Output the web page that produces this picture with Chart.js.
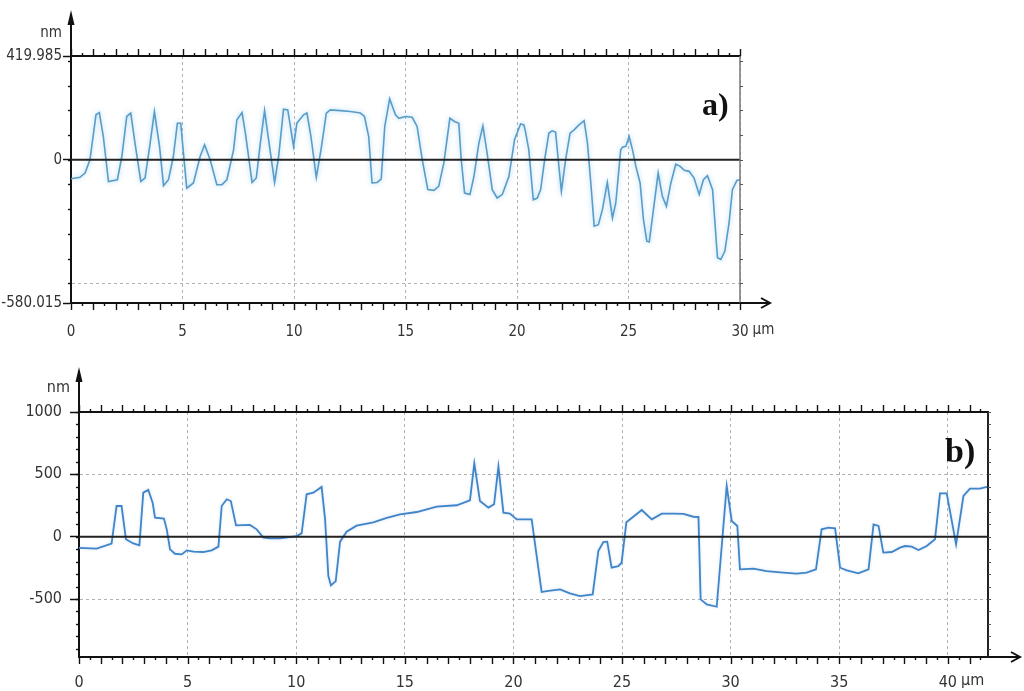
<!DOCTYPE html>
<html>
<head>
<meta charset="utf-8">
<script src="https://cdn.jsdelivr.net/npm/chart.js@4.4.0/dist/chart.umd.min.js"></script>
<style>
  html, body { margin:0; padding:0; background:#fff; }
  canvas { position:absolute; left:0; }
  #chartA { top:0; }
  #chartB { top:345px; }
</style>
</head>
<body>
<canvas id="chartA" width="1024" height="345"></canvas>
<canvas id="chartB" width="1024" height="346"></canvas>
<script>
// profile a) : position along scan (µm) and height (nm)
var posA = [0, 0.4, 0.63, 0.85, 1.12, 1.27, 1.45, 1.68, 2.08, 2.28, 2.5, 2.68, 2.87, 3.13, 3.32, 3.55, 3.74, 3.97,
  4.15, 4.37, 4.59, 4.77, 4.92, 5.07, 5.19, 5.49, 5.79, 5.99, 6.24, 6.54, 6.77, 6.99, 7.29, 7.44, 7.67, 7.82,
  8.12, 8.31, 8.49, 8.68, 8.86, 9.13, 9.31, 9.53, 9.72, 9.98, 10.13, 10.43, 10.58, 10.76, 11.0, 11.21, 11.45,
  11.63, 12.08, 12.53, 12.98, 13.16, 13.35, 13.5, 13.73, 13.91, 14.07, 14.29, 14.55, 14.7, 15.0, 15.3, 15.52,
  15.75, 16.0, 16.27, 16.49, 16.72, 16.99, 17.2, 17.39, 17.5, 17.65, 17.89, 18.07, 18.29, 18.47, 18.66, 18.89,
  19.11, 19.34, 19.64, 19.89, 20.16, 20.31, 20.38, 20.53, 20.73, 20.91, 21.06, 21.24, 21.43, 21.58, 21.73,
  21.85, 21.99, 22.18, 22.38, 22.56, 22.78, 23.01, 23.16, 23.31, 23.46, 23.65, 23.83, 24.05, 24.28, 24.43,
  24.65, 24.73, 24.88, 25.03, 25.18, 25.33, 25.52, 25.67, 25.82, 25.93, 26.08, 26.33, 26.52, 26.7, 26.9,
  27.12, 27.32, 27.5, 27.72, 27.94, 28.17, 28.36, 28.54, 28.77, 28.99, 29.14, 29.32, 29.51, 29.66, 29.86, 30.0];
var hA = [-77, -71, -54, 0, 182, 191, 94, -88, -81, 13, 175, 189, 67, -88, -74, 67, 195, 54,
  -105, -81, 13, 148, 148, 0, -115, -94, 13, 61, 0, -101, -101, -81, 40, 162, 191, 108,
  -92, -74, 67, 199, 81, -92, 13, 205, 202, 54, 148, 182, 189, 94, -71, 40, 189,
  202, 199, 195, 189, 175, 94, -94, -92, -78, 135, 247, 182, 168, 175, 172, 135,
  0, -121, -124, -108, -13, 168, 155, 148, 0, -135, -141, -67, 67, 137, 27, -121,
  -155, -141, -67, 81, 145, 141, 114, 40, -162, -155, -121, 0, 108, 117, 112,
  0, -128, 0, 108, 121, 141, 158, 67, -94, -269, -263, -202, -92, -236, -175,
  40, 51, 54, 94, 40, -27, -94, -242, -330, -333, -229, -54, -148, -189, -94,
  -18, -27, -43, -47, -74, -141, -81, -65, -121, -397, -404, -370, -256, -121, -84, -81];
var xTicksA = [0, 5, 10, 15, 20, 25, 30];
var yTicksA = [-580.015, -500, 0, 419.985];
var yLabelsA = ['-580.015', '', '0', '419.985'];

// profile b)
var posB = [0, 0.81, 1.5, 1.73, 1.96, 2.16, 2.5, 2.78, 2.96, 3.19, 3.39, 3.5, 3.91, 4.04, 4.19, 4.42, 4.73,
  4.96, 5.27, 5.72, 6.11, 6.42, 6.57, 6.8, 6.99, 7.23, 7.87, 8.18, 8.49, 8.8, 9.26, 10.02, 10.25, 10.48,
  10.79, 11.17, 11.33, 11.48, 11.6, 11.82, 12.02, 12.32, 12.78, 13.55, 14.17, 14.78, 15.55, 16.47, 17.39,
  18.0, 18.2, 18.46, 18.85, 19.11, 19.31, 19.54, 19.84, 20.15, 20.84, 21.3, 21.53, 22.15, 22.6, 23.07,
  23.65, 23.91, 24.14, 24.32, 24.52, 24.83, 24.98, 25.2, 25.91, 26.37, 26.83, 27.37, 27.83, 28.28, 28.52,
  28.62, 28.9, 29.36, 29.82, 30.05, 30.31, 30.43, 31.05, 31.66, 32.43, 33.04, 33.5, 33.93, 34.19, 34.5,
  34.81, 35.04, 35.35, 35.88, 36.35, 36.58, 36.81, 37.03, 37.42, 37.8, 38.03, 38.34, 38.65, 39.03, 39.41,
  39.64, 39.95, 40.38, 40.72, 41.02, 41.48, 41.85];
var hB = [-90, -96, -55, 246, 246, -21, -54, -70, 353, 375, 273, 153, 145, 59, -102, -137, -142,
  -110, -120, -123, -110, -80, 246, 300, 286, 91, 94, 59, -8, -13, -13, 5, 27, 340,
  353, 399, 139, -316, -391, -356, -40, 40, 88, 115, 150, 179, 198, 241, 252,
  292, 589, 286, 233, 260, 562, 193, 185, 139, 139, -444, -436, -423, -455, -476,
  -463, -115, -43, -40, -249, -236, -209, 115, 214, 139, 185, 185, 183, 160, 158,
  -503, -543, -562, 407, 126, 86, -262, -257, -276, -289, -297, -289, -262, 59, 72,
  67, -249, -270, -294, -262, 99, 86, -128, -123, -88, -75, -80, -107, -75, -21,
  348, 348, -62, 327, 385, 385, 402];
var xTicksB = [0, 5, 10, 15, 20, 25, 30, 35, 40];
var yTicksB = [-965, -500, 0, 500, 1000];
var yLabelsB = ['', '-500', '0', '500', '1000'];

var FAMILY = '"DejaVu Sans Condensed", "Liberation Sans Narrow", "DejaVu Sans", sans-serif';

function seg(ctx, x1, y1, x2, y2, w, c) {
  ctx.beginPath();
  ctx.lineWidth = w;
  ctx.strokeStyle = c;
  ctx.moveTo(x1, y1);
  ctx.lineTo(x2, y2);
  ctx.stroke();
}

// axis decorations: ruler ticks, frame, zero line, arrows, units, panel label
var framePlugin = {
  id: 'frame',
  beforeDatasetsDraw: function(chart, args, o) {
    chart.ctx.save();
    chart.ctx.shadowColor = o.glow;
    chart.ctx.shadowBlur = o.glowBlur;
  },
  afterDatasetsDraw: function(chart) {
    chart.ctx.restore();
  },
  afterDraw: function(chart, args, o) {
    var ctx = chart.ctx, a = chart.chartArea;
    var x = chart.scales.x, y = chart.scales.y;
    ctx.save();
    var y0 = y.getPixelForValue(0);
    seg(ctx, a.left, y0, a.right, y0, 2, '#222');
    seg(ctx, a.left - 1, a.top, a.right + 1, a.top, 2, '#111');
    seg(ctx, a.right, a.top, a.right, a.bottom, o.rightWidth, o.rightColor);

    for (var v = 0; v <= x.max + 1e-6; v += 0.5) {
      var px = Math.round(x.getPixelForValue(v)) + 0.5;
      var len = (v % 1 === 0) ? 7 : 3;
      seg(ctx, px, a.top, px, a.top - len, 1.4, '#111');
      seg(ctx, px, a.bottom, px, a.bottom + len, 1.4, '#111');
    }
    for (var w = Math.ceil(y.min / 100) * 100; w <= y.max; w += 100) {
      var py = Math.round(y.getPixelForValue(w)) + 0.5;
      seg(ctx, a.left - 3, py, a.left, py, 1.4, '#111');
      seg(ctx, a.right, py, a.right + 3, py, 1, '#555');
    }

    // y arrow
    seg(ctx, a.left, a.top, a.left, o.arrowTop + 8, 2, '#111');
    ctx.fillStyle = '#111';
    ctx.beginPath();
    ctx.moveTo(a.left, o.arrowTop);
    ctx.lineTo(a.left - 3.5, o.arrowTop + 15);
    ctx.lineTo(a.left + 3.5, o.arrowTop + 15);
    ctx.closePath();
    ctx.fill();
    // x arrow
    seg(ctx, a.right, a.bottom, o.arrowRight, a.bottom, 2, '#111');
    ctx.beginPath();
    ctx.lineWidth = 2;
    ctx.moveTo(o.arrowRight - 9, a.bottom - 5);
    ctx.lineTo(o.arrowRight, a.bottom);
    ctx.lineTo(o.arrowRight - 9, a.bottom + 5);
    ctx.stroke();

    // units
    ctx.font = o.font;
    ctx.fillStyle = '#333';
    ctx.textBaseline = 'middle';
    ctx.textAlign = 'right';
    ctx.fillText('nm', a.left - 9, o.nmY);
    var last = o.lastTick;
    var lw = ctx.measureText(String(last)).width;
    ctx.textAlign = 'left';
    ctx.fillText('µm', x.getPixelForValue(last) + lw / 2 + 4, o.unitY);

    // panel label
    ctx.font = o.labelFont;
    ctx.fillStyle = '#111';
    ctx.textAlign = 'left';
    ctx.textBaseline = 'alphabetic';
    ctx.fillText(o.label, o.labelX, o.labelY);
    ctx.restore();
  }
};

function makeChart(id, pos, h, xTicks, yTicks, yLabels, s) {
  var pts = pos.map(function(p, i) { return { x: p, y: h[i] }; });
  var fnt = { family: FAMILY, size: s.fontSize };
  return new Chart(document.getElementById(id).getContext('2d'), {
    type: 'line',
    data: {
      datasets: [{
        data: pts,
        borderColor: s.lineColor,
        borderWidth: s.lineWidth,
        pointRadius: 0,
        tension: 0,
        fill: false
      }]
    },
    options: {
      responsive: false,
      animation: false,
      events: [],
      layout: { padding: s.padding },
      plugins: {
        legend: { display: false },
        tooltip: { enabled: false },
        frame: s.frame
      },
      scales: {
        x: {
          type: 'linear',
          min: 0,
          max: s.xMax,
          afterBuildTicks: function(sc) { sc.ticks = xTicks.map(function(v) { return { value: v }; }); },
          afterFit: function(sc) { sc.height = s.xHeight; },
          ticks: {
            autoSkip: false, maxRotation: 0, padding: s.xPad,
            color: '#333', font: fnt,
            callback: function(v) { return String(v); }
          },
          grid: {
            drawTicks: false,
            lineWidth: 1,
            color: function(c) { return c.tick && c.tick.value > 0 ? '#b0b0b0' : 'rgba(0,0,0,0)'; }
          },
          border: { display: true, color: '#111', width: 2, dash: [3, 3] }
        },
        y: {
          min: yTicks[0],
          max: yTicks[yTicks.length - 1],
          afterBuildTicks: function(sc) { sc.ticks = yTicks.map(function(v) { return { value: v }; }); },
          afterFit: function(sc) { sc.width = s.yWidth; },
          ticks: {
            padding: s.yPad, color: '#333', font: fnt,
            callback: function(v, i) { return yLabels[i]; }
          },
          grid: {
            tickLength: s.yTick,
            tickWidth: 1.5,
            lineWidth: 1,
            tickColor: function(c) { return yLabels[c.index] ? '#111' : 'rgba(0,0,0,0)'; },
            color: function(c) { return c.tick && Math.abs(c.tick.value) === 500 ? '#b0b0b0' : 'rgba(0,0,0,0)'; }
          },
          border: { display: true, color: '#111', width: 2, dash: [3, 3] }
        }
      }
    },
    plugins: [framePlugin]
  });
}

makeChart('chartA', posA, hA, xTicksA, yTicksA, yLabelsA, {
  xMax: 30, padding: { top: 56, right: 284, left: 0, bottom: 0 },
  yWidth: 71, xHeight: 42, xPad: 20, yPad: 1, yTick: 8, fontSize: 15,
  lineColor: '#5a9cc8', lineWidth: 1.6,
  frame: {
    glow: 'rgba(130,195,235,0.75)', glowBlur: 5,
    rightColor: '#777', rightWidth: 1.5,
    arrowTop: 10, arrowRight: 770, nmY: 33, unitY: 330, lastTick: 30,
    font: '15px ' + FAMILY,
    label: 'a)', labelX: 702, labelY: 115, labelFont: 'bold 32px "Liberation Serif"'
  }
});

makeChart('chartB', posB, hB, xTicksB, yTicksB, yLabelsB, {
  xMax: 41.85, padding: { top: 67, right: 36, left: 0, bottom: 0 },
  yWidth: 79, xHeight: 34, xPad: 16, yPad: 8, yTick: 9, fontSize: 16,
  lineColor: '#4185c9', lineWidth: 1.8,
  frame: {
    glow: 'rgba(120,170,230,0.35)', glowBlur: 3,
    rightColor: '#222', rightWidth: 2,
    arrowTop: 22, arrowRight: 1020, nmY: 43, unitY: 336, lastTick: 40,
    font: '16px ' + FAMILY,
    label: 'b)', labelX: 945, labelY: 117, labelFont: 'bold 34px "Liberation Serif"'
  }
});
</script>
</body>
</html>
